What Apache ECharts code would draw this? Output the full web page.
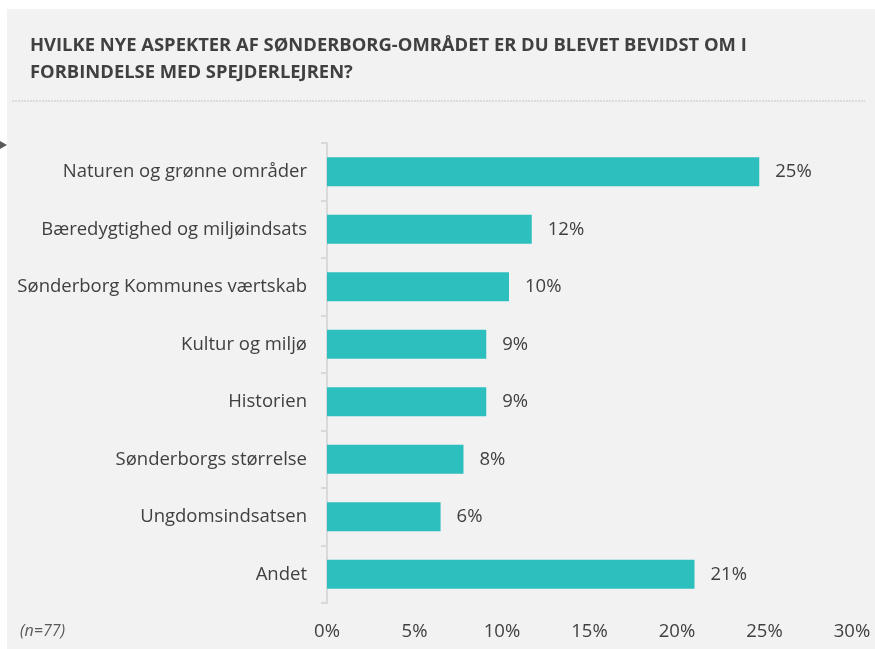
<!DOCTYPE html>
<html>
<head>
<meta charset="utf-8">
<script src="https://cdn.jsdelivr.net/npm/echarts@6/dist/echarts.min.js"></script>
<style>
html, body { margin: 0; padding: 0; background: #ffffff; }
#chart { width: 875px; height: 649px; }
</style>
</head>
<body>
<div id="chart"></div>
<script>
// data (share of respondents, n=77)
var categories = ['Naturen og grønne områder', 'Bæredygtighed og miljøindsats', 'Sønderborg Kommunes værtskab',
	'Kultur og miljø', 'Historien', 'Sønderborgs størrelse', 'Ungdomsindsatsen', 'Andet'];
var shares = [24.7, 11.7, 10.4, 9.1, 9.1, 7.8, 6.49, 21.0];
var tickLabels = ['0%', '5%', '10%', '15%', '20%', '25%', '30%'];

var textColor = '#404040';
var font = '"Open Sans", Lato, sans-serif';

var chart = echarts.init(document.getElementById('chart'));

var option = {
	backgroundColor: '#ffffff',
	animation: false,
	graphic: [
		// grey panel
		{ type: 'rect', left: 7, top: 9, shape: { width: 868, height: 640 }, style: { fill: '#f2f2f2' }, z: -10 },
		// dotted separator
		{ type: 'line', shape: { x1: 12, y1: 101, x2: 865, y2: 101 }, style: { stroke: '#c4c4c4', lineWidth: 1, lineDash: [2, 1] } },
		// small arrow on the left
		{ type: 'polygon', shape: { points: [[0, 141], [7, 145], [0, 149]] }, style: { fill: '#595959' } },
		{
			type: 'text', left: 30, top: 32,
			style: {
				text: 'HVILKE NYE ASPEKTER AF SØNDERBORG-OMRÅDET ER DU BLEVET BEVIDST OM I\nFORBINDELSE MED SPEJDERLEJREN?',
				fill: textColor, font: 'bold 18.4px "Open Sans", sans-serif', lineHeight: 27
			}
		},
		{
			type: 'text', left: 20, top: 623,
			style: { text: '(n=77)', fill: '#595959', font: 'italic 16px ' + font }
		}
	],
	grid: { left: 327, right: 23, top: 143, bottom: 46, containLabel: false },
	xAxis: {
		type: 'value',
		min: 0, max: 30, interval: 5,
		axisLine: { show: false },
		axisTick: { show: false },
		splitLine: { show: false },
		axisLabel: {
			color: textColor, fontSize: 18.5, fontFamily: font, margin: 19,
			formatter: function (v) { return tickLabels[v / 5]; }
		}
	},
	yAxis: {
		type: 'category',
		data: categories,
		inverse: true,
		axisLine: { show: true, lineStyle: { color: '#d9d9d9', width: 2 } },
		axisTick: { show: true, length: 6, lineStyle: { color: '#d9d9d9', width: 2 } },
		axisLabel: { color: textColor, fontSize: 18.5, fontFamily: font, margin: 20 }
	},
	series: [{
		type: 'bar',
		data: shares,
		barWidth: 29,
		itemStyle: { color: '#2cbfbd' },
		label: {
			show: true, position: 'right', distance: 16,
			color: textColor, fontSize: 18.5, fontFamily: font,
			formatter: function (p) { return Math.round(p.value) + '%'; }
		}
	}]
};

chart.setOption(option);

window.onresize = function () {
	chart.resize();
};
</script>
</body>
</html>
